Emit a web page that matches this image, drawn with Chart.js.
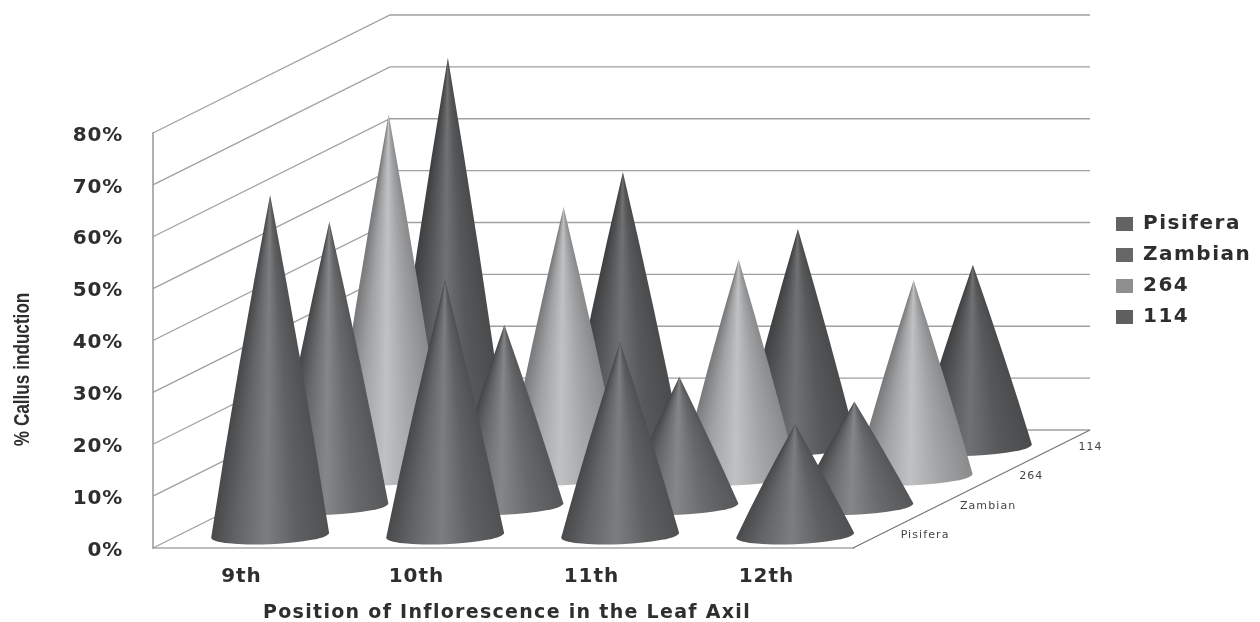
<!DOCTYPE html>
<html>
<head>
<meta charset="utf-8">
<style>html,body{margin:0;padding:0;background:#fff}canvas{display:block}</style>
<script src="https://cdn.jsdelivr.net/npm/chart.js@4/dist/chart.umd.min.js"></script>
</head>
<body>
<canvas id="c" width="1260" height="622"></canvas>
<script>
const categories = ['9th', '10th', '11th', '12th'];
const seriesNames = ['Pisifera', 'Zambian', '264', '114'];
const pisifera = [65.2, 48.8, 36.8, 21.0];
const zambian = [54.4, 34.5, 24.5, 19.7];
const line264 = [69.4, 51.5, 41.4, 37.4];
const line114 = [74.6, 52.6, 41.6, 34.7];
const yTicks = [0, 10, 20, 30, 40, 50, 60, 70, 80];

const legendColors = ['#636363', '#676767', '#8f8f8f', '#5f5f5f'];
const coneShades = [
  ['#505153', '#5f6062', '#7b7d7f', '#636465', '#48494b'],
  ['#565758', '#68696a', '#858688', '#666768', '#47484a'],
  ['#8a8b8d', '#a3a4a6', '#bfc1c3', '#a0a1a3', '#7a7b7d'],
  ['#4a4b4c', '#575859', '#6f7173', '#545556', '#404142']
];
const shadeStops = [0, 0.28, 0.53, 0.78, 1];
const DEPTH_X = 237, DEPTH_Y = 118, ROWS = 4;
const BOLD = '"DejaVu Sans"';

function rowOffset(i) {
  return { dx: DEPTH_X * (i + 0.5) / ROWS, dy: DEPTH_Y * (i + 0.5) / ROWS };
}

function wrapDraw(scale, method, spacing, tx, ty, sy, cy) {
  const orig = scale[method];
  scale[method] = function () {
    const ctx = this.ctx;
    ctx.save();
    ctx.letterSpacing = spacing;
    ctx.translate(tx, ty);
    if (sy) {
      ctx.translate(0, cy);
      ctx.scale(1, sy);
      ctx.translate(0, -cy);
    }
    orig.apply(this, arguments);
    ctx.restore();
  };
}

const cone3d = {
  id: 'cone3d',
  afterLayout(chart) {
    const lg = chart.legend;
    lg.left = 1105; lg.right = 1260; lg.top = 203; lg.bottom = 420;
    lg.width = 155; lg.height = 217;
    const { x, y } = chart.scales;
    if (!x._wrapped) {
      x._wrapped = true;
      wrapDraw(x, 'drawLabels', '1px', 1, 0);
      wrapDraw(x, 'drawTitle', '1.3px', 4, 2);
      wrapDraw(y, 'drawLabels', '0.8px', 0, 2.5);
      wrapDraw(y, 'drawTitle', '0px', 0, 29, 0.78, 340);
    }
  },
  beforeDraw(chart) {
    chart.ctx.letterSpacing = '1.5px';
  },
  beforeDatasetsDraw(chart) {
    const { ctx, chartArea: a } = chart;
    const y = chart.scales.y;
    ctx.save();
    ctx.letterSpacing = '0px';
    ctx.strokeStyle = '#a0a0a0';
    ctx.lineWidth = 1.3;
    yTicks.forEach(v => {
      const p = y.getPixelForValue(v);
      ctx.beginPath();
      ctx.moveTo(a.left, p);
      ctx.lineTo(a.left + DEPTH_X, p - DEPTH_Y);
      ctx.lineTo(a.right + DEPTH_X, p - DEPTH_Y);
      ctx.stroke();
    });
    // floor edge
    ctx.strokeStyle = '#777777';
    ctx.beginPath();
    ctx.moveTo(a.right, a.bottom);
    ctx.lineTo(a.right + DEPTH_X, a.bottom - DEPTH_Y);
    ctx.stroke();
    // depth axis labels
    ctx.letterSpacing = '1.1px';
    ctx.fillStyle = '#444444';
    ctx.font = '11px ' + BOLD;
    ctx.textAlign = 'left';
    ctx.textBaseline = 'middle';
    seriesNames.forEach((name, i) => {
      const o = rowOffset(i);
      ctx.fillText(name, a.right + o.dx + 18, a.bottom - o.dy + 2);
    });
    ctx.restore();
  },
  beforeDatasetDraw(chart, args) {
    const { ctx } = chart;
    const i = args.index;
    const o = rowOffset(i);
    const shades = coneShades[i];
    args.meta.data.forEach(bar => {
      const props = bar.getProps(['x', 'y', 'base', 'width'], true);
      const cx = props.x + o.dx;
      const tipY = props.y - o.dy;
      const baseY = props.base - o.dy + 2;
      const rx = props.width / 2;
      const ry = 9;
      const rot = -0.042;
      const h = baseY - tipY;
      const bulge = 1.5 + h / 220;
      // shading bands converge on the tip of the cone
      const margin = 0.3;
      const start = Math.atan2(h, rx) - margin;
      const g = ctx.createConicGradient(start, cx, tipY);
      const stopAt = p => (Math.atan2(h, rx * (1 - 2 * p)) - start) / (2 * Math.PI);
      g.addColorStop(0, shades[4]);
      for (let k = shadeStops.length - 1; k >= 0; k--) {
        g.addColorStop(stopAt(shadeStops[k]), shades[k]);
      }
      g.addColorStop(1, shades[0]);
      const ex = rx * Math.cos(rot), ey = rx * Math.sin(rot);
      const midY = (tipY + baseY) / 2;
      ctx.save();
      ctx.filter = 'blur(0.5px)';
      ctx.fillStyle = g;
      ctx.beginPath();
      ctx.moveTo(cx, tipY);
      ctx.quadraticCurveTo(cx + ex / 2 + bulge, midY, cx + ex, baseY + ey);
      ctx.ellipse(cx, baseY, rx, ry, rot, 0, Math.PI, false);
      ctx.quadraticCurveTo(cx - ex / 2 - bulge, midY, cx, tipY);
      ctx.closePath();
      ctx.fill();
      ctx.restore();
    });
    return false;
  }
};

const makeSet = (label, data, i) => ({
  label, data,
  backgroundColor: legendColors[i],
  borderWidth: 0,
  grouped: false,
  categoryPercentage: 1,
  barPercentage: 118 / 175
});

new Chart(document.getElementById('c'), {
  type: 'bar',
  plugins: [cone3d],
  data: {
    labels: categories,
    datasets: [
      makeSet(seriesNames[0], pisifera, 0),
      makeSet(seriesNames[1], zambian, 1),
      makeSet(seriesNames[2], line264, 2),
      makeSet(seriesNames[3], line114, 3)
    ]
  },
  options: {
    responsive: false,
    animation: false,
    layout: { padding: { left: 0, right: 407, top: 133, bottom: 0 } },
    plugins: {
      tooltip: { enabled: false },
      title: { display: false },
      legend: {
        display: true,
        position: 'chartArea',
        align: 'start',
        labels: {
          boxWidth: 17,
          boxHeight: 14,
          padding: 11,
          color: '#2e2e2e',
          font: { family: BOLD, weight: 'bold', size: 20 }
        }
      }
    },
    scales: {
      x: {
        grid: { display: false, drawTicks: false },
        border: { display: true, color: '#bdbdbd', width: 2 },
        ticks: { color: '#2e2e2e', padding: 17, maxRotation: 0, font: { family: BOLD, weight: 'bold', size: 20 } },
        title: {
          display: true, text: 'Position of Inflorescence in the Leaf Axil', color: '#2e2e2e',
          padding: { top: 0, bottom: 0 },
          font: { family: BOLD, weight: 'bold', size: 19 }
        },
        afterFit(s) { s.height = 74; }
      },
      y: {
        min: 0, max: 80,
        grid: { display: false, drawTicks: false },
        border: { display: true, color: '#b0b0b0', width: 2 },
        ticks: {
          stepSize: 10, color: '#2e2e2e', padding: 30,
          callback: v => v + '%',
          font: { family: BOLD, weight: 'bold', size: 20 }
        },
        title: {
          display: true, text: '% Callus induction', color: '#2e2e2e',
          padding: { top: 10, bottom: 0 },
          font: { family: '"Liberation Sans Narrow", "Liberation Sans"', weight: 'bold', size: 22 }
        },
        afterFit(s) { s.width = 153; }
      }
    }
  }
});
</script>
</body>
</html>
